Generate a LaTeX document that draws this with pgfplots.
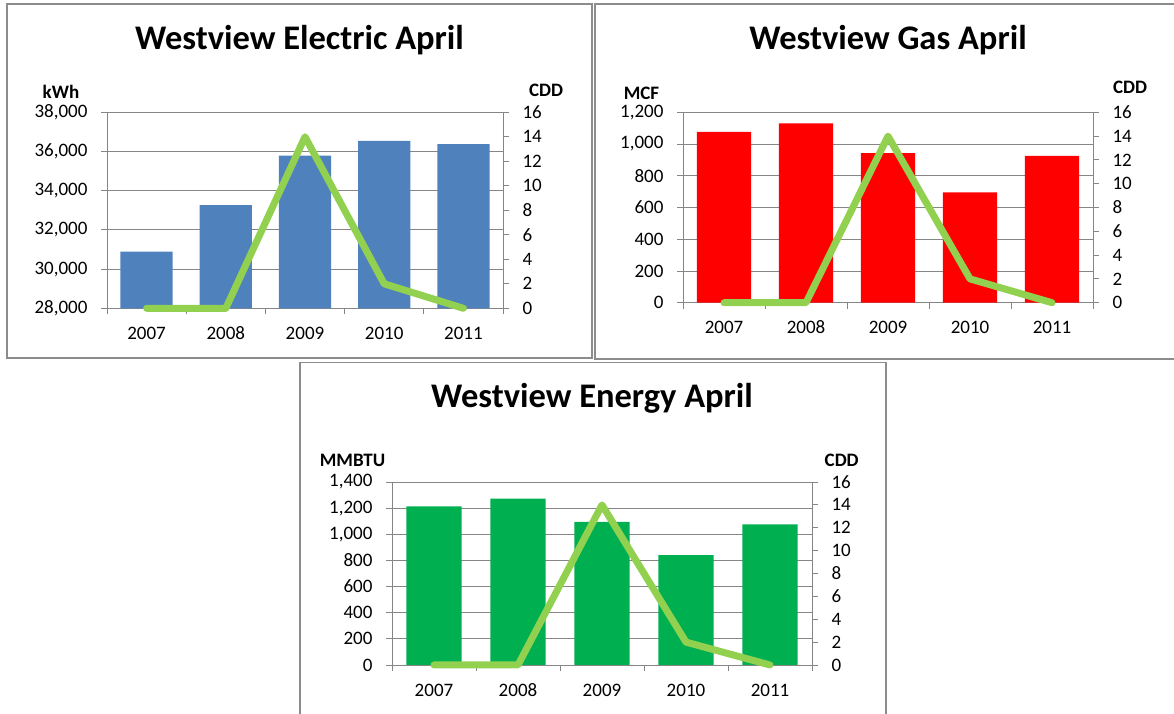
\documentclass[border=0pt]{standalone}
\usepackage{fontspec}
\setmainfont{Carlito}
\usepackage{pgfplots}
\pgfplotsset{compat=1.18}
\definecolor{elec}{HTML}{4F81BD}
\definecolor{gasred}{HTML}{FF0000}
\definecolor{energ}{HTML}{00B050}
\definecolor{cdd}{HTML}{92D050}
\definecolor{axgray}{HTML}{868686}
\definecolor{framegray}{HTML}{8C8C8C}
\newcommand{\tickfont}{\fontsize{19}{22}\selectfont}
\pgfplotsset{
  base/.style={
    scale only axis, anchor=south west,
    xmin=-0.5, xmax=4.5,
    /pgf/number format/assume math mode=true,
    /pgf/number format/1000 sep={,},
    scaled y ticks=false,
    tick label style={font=\tickfont, text=black},
    tick align=outside,
    major tick length=6pt,
    tick style={axgray, line width=0.9pt},
    axis line style={-, draw=axgray, line width=0.9pt},
  },
  barax/.style={base,
    axis y line*=left, axis x line*=bottom,
    xtick={-0.5,0.5,1.5,2.5,3.5,4.5},
    xticklabel=\empty,
    extra x ticks={0,1,2,3,4},
    extra x tick labels={2007,2008,2009,2010,2011},
    extra x tick style={major tick length=0pt, tick style={draw=none},
      xticklabel style={anchor=base, yshift=-31pt, text height=12pt, text depth=0pt}},
    yticklabel style={xshift=-10pt},
    ymajorgrids, grid style={axgray, line width=0.9pt},
    ybar, bar width=0.66,
  },
  cddax/.style={base,
    axis y line*=right, hide x axis,
    ymin=0, ymax=16, ytick={0,2,...,16},
    yticklabel style={xshift=10pt},
    clip=false,
  },
  cddline/.style={cdd, line width=7pt, line join=round, line cap=round},
}
\begin{document}
\begin{tikzpicture}
\useasboundingbox (0pt,0pt) rectangle (1174pt,714pt);
% panel frames
\draw[framegray, line width=1.3pt] (7pt,356pt) rectangle (592pt,710pt);
\draw[framegray, line width=1.3pt] (595pt,355pt) rectangle (1190pt,710pt);
\draw[framegray, line width=1.3pt] (300pt,-10pt) rectangle (886pt,351.3pt);

% ===== Electric =====
\begin{axis}[barax, at={(107pt,405.7pt)}, width=396pt, height=196pt,
  ymin=28000, ymax=38000, ytick={28000,30000,...,38000}]
\addplot[fill=elec, draw=none] coordinates {(0,30890) (1,33270) (2,35790) (3,36540) (4,36370)};
\end{axis}
\begin{axis}[cddax, at={(107pt,405.7pt)}, width=396pt, height=196pt]
\addplot[cddline] coordinates {(0,0) (1,0) (2,14) (3,2) (4,0)};
\end{axis}
\node[font=\bfseries\fontsize{34.5}{40}\selectfont, anchor=base] at (299.5pt,664pt) {Westview Electric April};
\node[font=\bfseries\fontsize{19}{22}\selectfont, anchor=base] at (61pt,615pt) {kWh};
\node[font=\bfseries\fontsize{19}{22}\selectfont, anchor=base] at (546pt,617pt) {CDD};

% ===== Gas =====
\begin{axis}[barax, at={(683pt,411.3pt)}, width=410pt, height=190.4pt,
  ymin=0, ymax=1200, ytick={0,200,...,1200}]
\addplot[fill=gasred, draw=none] coordinates {(0,1076) (1,1130) (2,943) (3,696) (4,926)};
\end{axis}
\begin{axis}[cddax, at={(683pt,411.3pt)}, width=410pt, height=190.4pt]
\addplot[cddline] coordinates {(0,0) (1,0) (2,14) (3,2) (4,0)};
\end{axis}
\node[font=\bfseries\fontsize{34.5}{40}\selectfont, anchor=base] at (888pt,664pt) {Westview Gas April};
\node[font=\bfseries\fontsize{19}{22}\selectfont, anchor=base] at (641.5pt,614pt) {MCF};
\node[font=\bfseries\fontsize{19}{22}\selectfont, anchor=base] at (1130pt,620pt) {CDD};

% ===== Energy =====
\begin{axis}[barax, at={(392pt,49pt)}, width=420pt, height=183pt,
  ymin=0, ymax=1400, ytick={0,200,...,1400}]
\addplot[fill=energ, draw=none] coordinates {(0,1213) (1,1273) (2,1094) (3,841) (4,1076)};
\end{axis}
\begin{axis}[cddax, at={(392pt,49pt)}, width=420pt, height=183pt]
\addplot[cddline] coordinates {(0,0) (1,0) (2,14) (3,2) (4,0)};
\end{axis}
\node[font=\bfseries\fontsize{34.5}{40}\selectfont, anchor=base] at (592pt,306.7pt) {Westview Energy April};
\node[font=\bfseries\fontsize{19}{22}\selectfont, anchor=base] at (352.5pt,247.3pt) {MMBTU};
\node[font=\bfseries\fontsize{19}{22}\selectfont, anchor=base] at (841.7pt,247.3pt) {CDD};
\end{tikzpicture}
\end{document}
